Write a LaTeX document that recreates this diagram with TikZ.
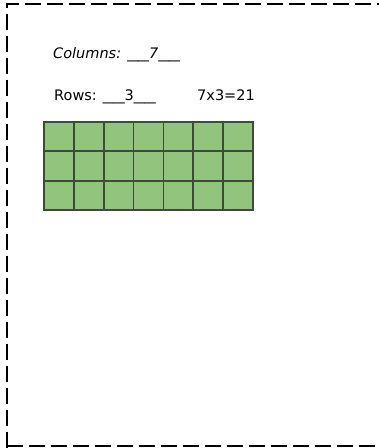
\documentclass[tikz,border=0pt]{standalone}
\usepackage{fontspec}
\setmainfont{DejaVu Sans}
\definecolor{cellgreen}{HTML}{93C47D}
\definecolor{celline}{HTML}{3F4A3A}
\newcommand{\blank}{\scalebox{1.5}[1]{\_\_}}
\tikzset{
  frame/.style={line width=1.8pt, dash pattern=on 16pt off 6pt},
  gridline/.style={draw=celline, line width=1.8pt},
  lbl/.style={anchor=base west, inner sep=0pt, font=\fontsize{14.5}{17}\selectfont}
}
\begin{document}
\begin{tikzpicture}[x=1pt,y=-1pt]
\useasboundingbox (0,0) rectangle (379,448);
\draw[frame] (7,448) -- (7,4) -- (379,4);
\draw[frame] (7,446) -- (379,446);
\node[lbl] (cols) at (53,58) {\itshape Columns: \blank7\blank};
\node[lbl] (rows) at (54,100) {Rows: \blank3\blank};
\node[lbl] (prod) at (197,100) {7x3=21};
\fill[cellgreen] (44,122) rectangle (253,210);
\foreach \i in {1,...,6}{
  \draw[gridline] ({44+\i*29.857},122) -- ({44+\i*29.857},210);
}
\foreach \j in {1,2}{
  \draw[gridline] (44,{122+\j*29.33}) -- (253,{122+\j*29.33});
}
\draw[gridline] (44,122) rectangle (253,210);
\end{tikzpicture}
\end{document}
